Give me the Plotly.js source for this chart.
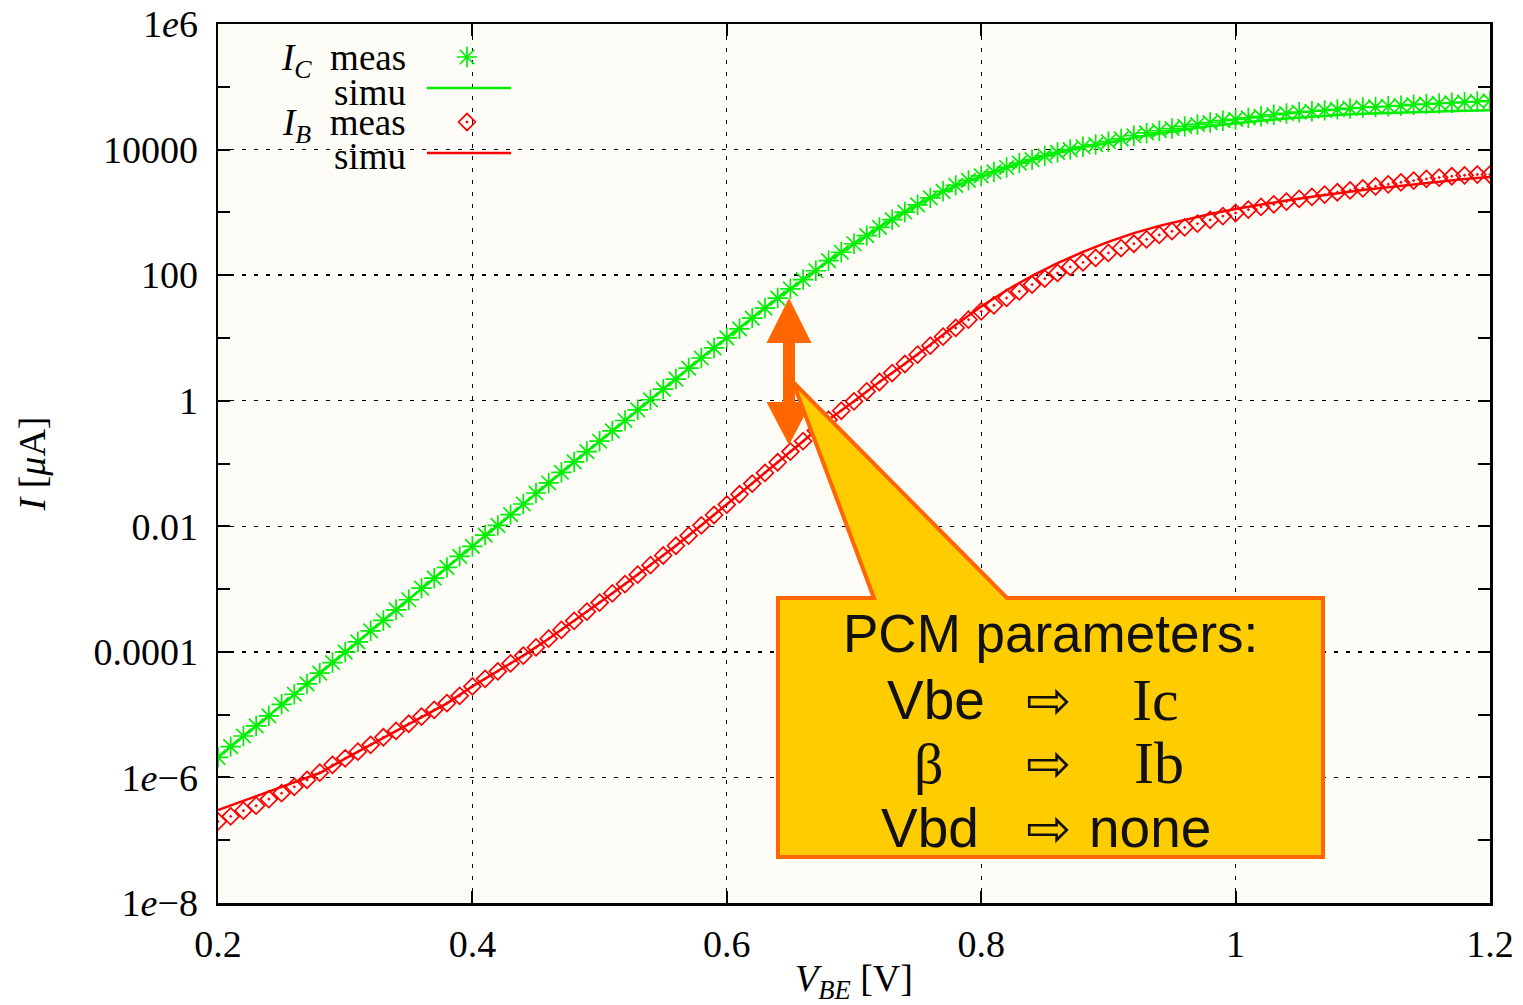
<!DOCTYPE html>
<html>
<head>
<meta charset="utf-8">
<script src="https://cdn.plot.ly/plotly-3.0.1.min.js"></script>
<style>
  html, body { margin: 0; padding: 0; background: #ffffff; }
  #gummel { width: 1523px; height: 1005px; }
</style>
</head>
<body>
<div id="gummel"></div>
<script>
// Gummel plot: collector and base current versus base-emitter voltage.
// Currents are listed as log10 of the current in microamperes.

const vbeMeas = [
  0.20, 0.21, 0.22, 0.23, 0.24, 0.25, 0.26, 0.27, 0.28, 0.29,
  0.30, 0.31, 0.32, 0.33, 0.34, 0.35, 0.36, 0.37, 0.38, 0.39,
  0.40, 0.41, 0.42, 0.43, 0.44, 0.45, 0.46, 0.47, 0.48, 0.49,
  0.50, 0.51, 0.52, 0.53, 0.54, 0.55, 0.56, 0.57, 0.58, 0.59,
  0.60, 0.61, 0.62, 0.63, 0.64, 0.65, 0.66, 0.67, 0.68, 0.69,
  0.70, 0.71, 0.72, 0.73, 0.74, 0.75, 0.76, 0.77, 0.78, 0.79,
  0.80, 0.81, 0.82, 0.83, 0.84, 0.85, 0.86, 0.87, 0.88, 0.89,
  0.90, 0.91, 0.92, 0.93, 0.94, 0.95, 0.96, 0.97, 0.98, 0.99,
  1.00, 1.01, 1.02, 1.03, 1.04, 1.05, 1.06, 1.07, 1.08, 1.09,
  1.10, 1.11, 1.12, 1.13, 1.14, 1.15, 1.16, 1.17, 1.18, 1.19,
  1.20
];

const icMeasLog = [
  -5.68, -5.51, -5.34, -5.18, -5.02, -4.835, -4.675, -4.51, -4.34, -4.17,
  -4.005, -3.84, -3.665, -3.50, -3.33, -3.17, -2.985, -2.825, -2.655, -2.48,
  -2.32, -2.14, -1.985, -1.815, -1.645, -1.47, -1.31, -1.14, -0.975, -0.81,
  -0.645, -0.48, -0.315, -0.145, 0.015, 0.185, 0.345, 0.52, 0.68, 0.84,
  1.00, 1.145, 1.315, 1.475, 1.635, 1.78, 1.93, 2.07, 2.23, 2.365,
  2.50, 2.63, 2.76, 2.885, 3.005, 3.12, 3.23, 3.335, 3.43, 3.51,
  3.58, 3.645, 3.715, 3.785, 3.84, 3.90, 3.955, 4.00, 4.045, 4.08,
  4.125, 4.17, 4.22, 4.265, 4.30, 4.335, 4.37, 4.40, 4.43, 4.46,
  4.48, 4.505, 4.53, 4.555, 4.575, 4.595, 4.61, 4.625, 4.64, 4.655,
  4.67, 4.68, 4.69, 4.70, 4.715, 4.725, 4.735, 4.745, 4.755, 4.765,
  4.775
];

const ibMeasLog = [
  -6.70, -6.62, -6.53, -6.45, -6.345, -6.25, -6.15, -6.04, -5.925, -5.80,
  -5.695, -5.59, -5.48, -5.36, -5.26, -5.145, -5.03, -4.925, -4.815, -4.70,
  -4.55, -4.43, -4.31, -4.185, -4.06, -3.93, -3.79, -3.65, -3.505, -3.36,
  -3.215, -3.07, -2.92, -2.77, -2.62, -2.465, -2.31, -2.15, -1.985, -1.82,
  -1.655, -1.49, -1.32, -1.15, -0.98, -0.81, -0.645, -0.475, -0.305, -0.16,
  -0.01, 0.148, 0.298, 0.441, 0.585, 0.733, 0.876, 1.02, 1.159, 1.291,
  1.423, 1.52, 1.637, 1.742, 1.849, 1.944, 2.035, 2.131, 2.204, 2.274,
  2.354, 2.43, 2.50, 2.57, 2.64, 2.70, 2.76, 2.82, 2.88, 2.94,
  2.99, 3.044, 3.087, 3.128, 3.171, 3.214, 3.246, 3.283, 3.320, 3.351,
  3.383, 3.415, 3.447, 3.479, 3.506, 3.533, 3.554, 3.575, 3.590, 3.602,
  3.602
];

const vbeSimu = [
  0.20, 0.22, 0.24, 0.26, 0.28, 0.30, 0.32, 0.34, 0.36, 0.38,
  0.40, 0.42, 0.44, 0.46, 0.48, 0.50, 0.52, 0.54, 0.56, 0.58,
  0.60, 0.62, 0.64, 0.66, 0.68, 0.70, 0.72, 0.74, 0.76, 0.78,
  0.80, 0.82, 0.84, 0.86, 0.88, 0.90, 0.92, 0.94, 0.96, 0.98,
  1.00, 1.02, 1.04, 1.06, 1.08, 1.10, 1.12, 1.14, 1.16, 1.18,
  1.20
];

const icSimuLog = [
  -5.678, -5.339, -5.020, -4.674, -4.340, -4.005, -3.665, -3.331, -2.985, -2.656,
  -2.32, -1.987, -1.647, -1.312, -0.977, -0.648, -0.314, 0.016, 0.346, 0.680,
  1.001, 1.318, 1.637, 1.928, 2.231, 2.497, 2.762, 3.007, 3.230, 3.426,
  3.574, 3.718, 3.841, 3.957, 4.043, 4.11, 4.19, 4.26, 4.32, 4.375,
  4.42, 4.46, 4.495, 4.525, 4.55, 4.57, 4.585, 4.60, 4.61, 4.62,
  4.626
];

const ibSimuLog = [
  -6.52, -6.37, -6.22, -6.08, -5.93, -5.70, -5.48, -5.26, -5.03, -4.82,
  -4.55, -4.31, -4.06, -3.79, -3.505, -3.215, -2.92, -2.62, -2.31, -1.985,
  -1.655, -1.32, -0.98, -0.645, -0.305, -0.01, 0.30, 0.59, 0.89, 1.21,
  1.50, 1.76, 1.99, 2.19, 2.37, 2.53, 2.67, 2.785, 2.885, 2.975,
  3.055, 3.125, 3.19, 3.25, 3.305, 3.355, 3.40, 3.445, 3.49, 3.53,
  3.565
];

const xTickVals = [0.2, 0.4, 0.6, 0.8, 1.0, 1.2];
const xTickText = ['0.2', '0.4', '0.6', '0.8', '1', '1.2'];
const yTickVals = [1e-8, 1e-6, 1e-4, 1e-2, 1, 1e2, 1e4, 1e6];
const yTickText = ['1<i>e</i>\u22128', '1<i>e</i>\u22126', '0.0001', '0.01', '1', '100', '10000', '1<i>e</i>6'];
const yMinorVals = [1e-7, 1e-5, 1e-3, 1e-1, 1e1, 1e3, 1e5];

const legendLabels = [
  '<i>I</i><sub><i>C</i></sub>\u00A0 meas', 'simu',
  '<i>I</i><sub><i>B</i></sub>\u00A0 meas', 'simu'
];

const GREEN = '#00ee00';
const RED = '#ff0000';
const ORANGE = '#ff6600';
const YELLOW = '#ffcc00';

const toCurrent = arr => arr.map(v => Math.pow(10, v));

// Plot area in canvas pixels, used to place decorations in paper units.
const AREA = { left: 218, right: 1490, top: 24, bottom: 903 };
const fx = p => (p - AREA.left) / (AREA.right - AREA.left);
const fy = p => (AREA.bottom - p) / (AREA.bottom - AREA.top);
const pathOf = pts => 'M ' + pts.map(([x, y]) => fx(x).toFixed(5) + ',' + fy(y).toFixed(5)).join(' L ') + ' Z';

const starMarker = { symbol: 'asterisk-open', size: 17, color: GREEN, line: { color: GREEN, width: 1.7 } };
const diamondMarker = { symbol: 'diamond-open-dot', size: 13, color: RED, line: { color: RED, width: 1.7 } };

const traces = [
  { x: vbeMeas, y: toCurrent(icMeasLog), type: 'scatter', mode: 'markers', marker: starMarker, hoverinfo: 'skip' },
  { x: vbeSimu, y: toCurrent(icSimuLog), type: 'scatter', mode: 'lines', line: { color: GREEN, width: 2.5 }, hoverinfo: 'skip' },
  { x: vbeMeas, y: toCurrent(ibMeasLog), type: 'scatter', mode: 'markers', marker: diamondMarker, hoverinfo: 'skip' },
  { x: vbeSimu, y: toCurrent(ibSimuLog), type: 'scatter', mode: 'lines', line: { color: RED, width: 2.5 }, hoverinfo: 'skip' },
  // key glyphs, drawn on a pixel-unit overlay axis pair
  { x: [467], y: [57], xaxis: 'x2', yaxis: 'y2', type: 'scatter', mode: 'markers', marker: starMarker, hoverinfo: 'skip' },
  { x: [427, 511], y: [88, 88], xaxis: 'x2', yaxis: 'y2', type: 'scatter', mode: 'lines', line: { color: GREEN, width: 2.5 }, hoverinfo: 'skip' },
  { x: [467], y: [122], xaxis: 'x2', yaxis: 'y2', type: 'scatter', mode: 'markers', marker: diamondMarker, hoverinfo: 'skip' },
  { x: [427, 511], y: [153, 153], xaxis: 'x2', yaxis: 'y2', type: 'scatter', mode: 'lines', line: { color: RED, width: 2.5 }, hoverinfo: 'skip' }
];

const serif = 'Liberation Serif, DejaVu Serif, serif';
const sans = 'Liberation Sans, Arial, sans-serif';

const axisCommon = {
  ticks: 'inside', ticklen: 12, tickwidth: 2, tickcolor: '#000',
  showline: true, linewidth: 2.5, linecolor: '#000', mirror: 'ticks',
  showgrid: true, gridcolor: '#000', gridwidth: 1.4, griddash: '4px,8px',
  zeroline: false,
  tickfont: { family: serif, size: 38, color: '#000' }
};

const legendY = [60, 92, 125, 156];
const legendAnn = legendLabels.map((t, i) => ({
  xref: 'paper', yref: 'paper', x: fx(408), y: fy(legendY[i]),
  xanchor: 'right', yanchor: 'middle', showarrow: false,
  text: t, font: { family: serif, size: 37, color: '#000' }
}));

const boxText = (t, x, y, family, size) => ({
  xref: 'paper', yref: 'paper', x: fx(x), y: fy(y),
  xanchor: 'center', yanchor: 'middle', showarrow: false,
  text: t, font: { family: family, size: size, color: '#111' }
});

const boxAnn = [
  boxText('PCM parameters:', 1050, 633, sans, 53),
  boxText('Vbe', 936, 700, sans, 55),
  boxText('\u21E8', 1048, 700, 'DejaVu Sans', 54),
  boxText('Ic', 1155, 700, serif, 60),
  boxText('\u03B2', 929, 763, serif, 58),
  boxText('\u21E8', 1048, 763, 'DejaVu Sans', 54),
  boxText('Ib', 1159, 763, serif, 60),
  boxText('Vbd', 930, 828, sans, 55),
  boxText('\u21E8', 1048, 828, 'DejaVu Sans', 54),
  boxText('none', 1150, 828, sans, 55)
];

const layout = {
  width: 1523, height: 1005,
  margin: { l: AREA.left, r: 1523 - AREA.right, t: AREA.top, b: 1005 - AREA.bottom },
  paper_bgcolor: '#ffffff',
  plot_bgcolor: '#fdfcf7',
  showlegend: false,
  font: { family: serif, size: 38, color: '#000' },
  xaxis: Object.assign({}, axisCommon, {
    range: [0.2, 1.2], tickmode: 'array', tickvals: xTickVals, ticktext: xTickText,
    ticklabelstandoff: 6,
    title: { text: '<i>V</i><sub><i>BE</i></sub> [V]', standoff: 14, font: { family: serif, size: 38, color: '#000' } }
  }),
  yaxis: Object.assign({}, axisCommon, {
    type: 'log', range: [-8, 6], tickmode: 'array', tickvals: yTickVals, ticktext: yTickText,
    ticklabelstandoff: 10,
    minor: { tickmode: 'array', tickvals: yMinorVals, ticks: 'inside', ticklen: 12, tickwidth: 2, tickcolor: '#000', showgrid: false },
    title: { text: '<i>I</i> [<i>\u03BC</i>A]', standoff: 36, font: { family: serif, size: 38, color: '#000' } }
  }),
  xaxis2: { overlaying: 'x', anchor: 'y2', range: [AREA.left, AREA.right], visible: false, fixedrange: true },
  yaxis2: { overlaying: 'y', anchor: 'x2', range: [AREA.bottom, AREA.top], visible: false, fixedrange: true },
  shapes: [
    // double-headed arrow between the two currents
    {
      type: 'path', xref: 'paper', yref: 'paper', layer: 'above',
      path: pathOf([[789, 298], [811.5, 343], [795, 343], [795, 402], [811.5, 402], [789, 445],
                    [766.5, 402], [783, 402], [783, 343], [766.5, 343]]),
      fillcolor: ORANGE, line: { width: 0 }
    },
    // speech-bubble callout
    {
      type: 'path', xref: 'paper', yref: 'paper', layer: 'above',
      path: pathOf([[778, 598], [874, 598], [793, 382], [1007, 598], [1323, 598], [1323, 857], [778, 857]]),
      fillcolor: YELLOW, line: { color: ORANGE, width: 4 }
    }
  ],
  annotations: legendAnn.concat(boxAnn)
};

Plotly.newPlot('gummel', traces, layout, { staticPlot: true, displayModeBar: false });
</script>
</body>
</html>
